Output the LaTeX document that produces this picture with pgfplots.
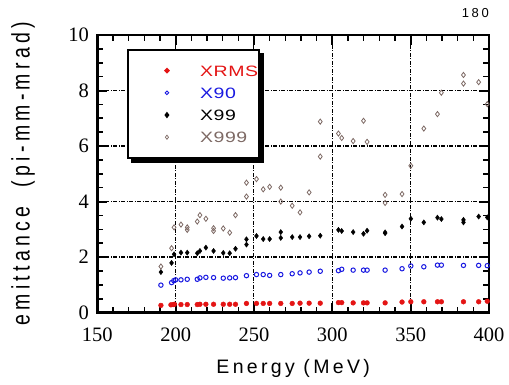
\documentclass[border=0pt]{standalone}
\usepackage{fontspec}
\usepackage{graphicx}
\setmainfont{Liberation Serif}
\newfontfamily\xlabfont{Liberation Sans}[LetterSpace=17]
\newfontfamily\ylabfont{Liberation Sans}[LetterSpace=22]
\newfontfamily\legfont{Liberation Sans}[LetterSpace=3]
\newfontfamily\tagfont{Liberation Sans}[LetterSpace=20]
\usepackage{pgfplots}
\pgfplotsset{compat=1.18}

\definecolor{rmsred}{RGB}{228,20,20}
\definecolor{nblue}{RGB}{25,25,225}
\definecolor{tbrown}{RGB}{125,105,100}

% wide legend lettering
\newcommand{\legtext}[2]{\scalebox{1.3}[1]{\textcolor{#1}{#2}}}

% emittance vs. beam energy
\pgfplotstableread{
E     y
190.6 0.26
197.0 0.28
198.5 0.29
199.2 0.30
203.4 0.29
207.4 0.29
213.8 0.29
215.5 0.30
219.3 0.30
224.2 0.30
230.4 0.30
234.5 0.30
238.2 0.30
245.2 0.33
251.6 0.33
255.9 0.33
260.0 0.33
267.1 0.33
274.4 0.33
279.4 0.34
285.2 0.34
292.3 0.34
303.9 0.36
306.0 0.36
313.3 0.35
319.9 0.35
322.2 0.35
333.7 0.35
344.5 0.38
350.1 0.39
358.4 0.39
367.1 0.39
369.6 0.39
383.7 0.39
393.4 0.39
398.9 0.41
}\xrms

\pgfplotstableread{
E     y
190.6 0.99
197.4 1.08
198.8 1.15
200.0 1.18
203.4 1.18
207.4 1.20
213.8 1.20
215.5 1.25
219.3 1.27
224.2 1.26
230.4 1.24
234.5 1.25
238.2 1.26
245.2 1.33
251.6 1.37
255.9 1.37
260.0 1.34
267.1 1.37
274.4 1.40
279.4 1.43
285.2 1.46
292.3 1.49
303.9 1.51
306.0 1.56
313.3 1.53
319.9 1.53
322.2 1.53
333.7 1.53
344.5 1.58
350.1 1.68
358.4 1.65
367.1 1.71
369.6 1.71
383.7 1.70
393.4 1.70
398.9 1.69
}\xninety

\pgfplotstableread{
E     y
190.6 1.46
197.4 1.79
199.0 2.10
203.4 2.16
207.4 2.16
213.8 2.14
215.5 2.22
219.3 2.34
224.2 2.22
230.4 2.15
234.5 2.14
238.2 2.30
245.2 2.45
245.2 2.64
251.6 2.76
255.9 2.65
260.0 2.65
267.1 2.69
267.1 2.90
274.4 2.72
279.4 2.72
285.2 2.75
292.3 2.77
303.9 2.98
306.0 2.94
313.3 2.90
319.9 2.84
322.2 2.95
333.7 2.89
333.7 2.86
344.5 3.10
350.1 3.38
358.4 3.25
367.1 3.42
369.6 3.37
383.7 3.34
383.7 3.25
393.4 3.46
398.9 3.43
}\xnn

\pgfplotstableread{
E     y
190.6 1.66
197.4 2.32
199.0 3.07
203.4 3.17
207.4 3.07
207.4 2.98
213.8 3.28
215.5 3.51
219.3 3.38
224.2 3.04
224.2 2.94
230.4 3.03
234.5 2.88
238.2 3.51
245.2 4.68
245.2 4.18
251.6 4.81
255.9 4.44
260.0 4.53
267.1 4.50
267.1 4.00
274.4 3.85
279.4 3.61
285.2 4.33
292.3 6.88
292.3 5.62
303.9 6.45
306.0 6.29
313.3 6.18
319.9 6.91
322.2 6.15
333.7 4.24
333.7 3.95
344.5 4.27
350.1 5.29
358.4 6.63
367.1 7.15
369.6 7.92
383.7 8.56
383.7 8.25
393.4 8.30
398.9 7.51
}\xnnn

\begin{document}
\begin{tikzpicture}
\begin{axis}[
  name=ax,
  at={(0pt,0pt)}, anchor=south west,
  scale only axis, width=391.7pt, height=277.6pt,
  xmin=150, xmax=400, ymin=0, ymax=10,
  xtick={150,200,...,400}, ytick={0,2,...,10},
  minor x tick num=4, minor y tick num=3,
  tick align=inside,
  major tick length=10pt, minor tick length=6pt,
  major tick style={black, line width=2pt},
  minor tick style={black, line width=1.6pt},
  axis line style={black, line width=2.5pt},
  xmajorgrids, ymajorgrids,
  major x grid style={black, line width=1pt, dash pattern=on 4pt off 1.5pt on 1pt off 1.5pt},
  major y grid style={black, line width=1.5pt, dash pattern=on 4pt off 1.5pt on 1pt off 1.5pt},
  /pgf/number format/assume math mode=true,
  ticklabel style={font=\fontsize{20.5}{20.5}\selectfont},
  xticklabel style={yshift=-12pt},
  yticklabel style={xshift=-5pt},
  xlabel={Energy (MeV)},
  xlabel style={font=\xlabfont\fontsize{19.5}{19.5}\selectfont,
    at={(axis description cs:0.5,0)}, anchor=base, yshift=-61.4pt},
  ylabel={emittance\ \ (pi-mm-mrad)},
  ylabel style={font=\ylabfont\fontsize{19.5}{19.5}\selectfont,
    at={(axis description cs:-0.173,0.5)}, anchor=base, yscale=1.3},
  clip=false,
  legend style={name=leg, at={(axis description cs:0.0766,0.9485)}, anchor=north west,
    draw=black, line width=1.5pt, fill=white,
    inner xsep=1pt, inner ysep=9.5pt, row sep=0pt,
    font=\legfont\fontsize{15}{15}\selectfont,
    nodes={inner xsep=0pt, inner ysep=0pt, text height=11pt, text depth=0pt}},
  legend cell align=left,
  legend image code/.code={%
    \path[draw=none, fill=none] (0pt,-11.1pt) rectangle (71pt,11.1pt);
    \draw[#1] plot coordinates {(37.9pt,0pt)};},
]
\addlegendimage{only marks, mark=*, mark size=1.9pt, draw=rmsred, fill=rmsred}
\addlegendentry{\legtext{rmsred}{XRMS}}
\addlegendimage{only marks, mark=o, mark size=1.8pt, draw=nblue, line width=0.9pt}
\addlegendentry{\legtext{nblue}{X90}}
\addlegendimage{only marks, mark=diamond*, mark size=2.1pt, draw=black, fill=black}
\addlegendentry{\legtext{black}{X99}}
\addlegendimage{only marks, mark=diamond, mark size=2.1pt, draw=tbrown, line width=0.7pt}
\addlegendentry{\legtext{tbrown}{X999}}

\addplot[only marks, mark=*, mark size=2.4pt, draw=rmsred, fill=rmsred, forget plot] table[x=E, y=y] {\xrms};
\addplot[only marks, mark=o, mark size=2.2pt, draw=nblue, line width=1pt, forget plot] table[x=E, y=y] {\xninety};
\addplot[only marks, mark=diamond*, mark size=2.6pt, draw=black, fill=black, forget plot] table[x=E, y=y] {\xnn};
\addplot[only marks, mark=diamond, mark size=2.6pt, draw=tbrown, line width=0.8pt, forget plot] table[x=E, y=y] {\xnnn};
\end{axis}
% solid shadow along the right and bottom edges of the legend box
\fill[black] ([yshift=-4pt]leg.north east) rectangle ([xshift=4pt,yshift=-4pt]leg.south east);
\fill[black] ([xshift=4pt]leg.south west) rectangle ([xshift=4pt,yshift=-4pt]leg.south east);
\node[anchor=base east, font=\tagfont\fontsize{13}{13}\selectfont, inner sep=0pt]
  at ([yshift=17pt]ax.north east) {180};
\pgfresetboundingbox
\path[use as bounding box] (-97.3pt,-72.4pt) rectangle (411.7pt,312.6pt);
\end{tikzpicture}
\end{document}
